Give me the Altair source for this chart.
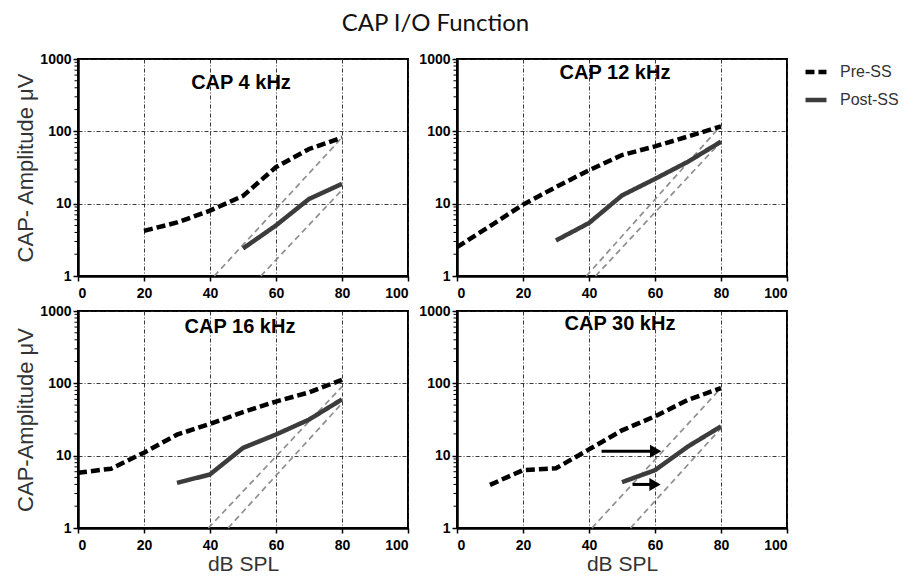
import altair as alt
import pandas as pd

# ---------------- data ----------------
panel_names = ["CAP 4 kHz", "CAP 12 kHz", "CAP 16 kHz", "CAP 30 kHz"]

pre4_x = [20, 30, 40, 50, 60, 70, 80]
pre4_y = [4.2, 5.5, 8.0, 12.8, 32, 57, 82]
post4_x = [50, 60, 70, 80]
post4_y = [2.4, 5.0, 11.6, 18.8]

pre12_x = [0, 10, 20, 30, 40, 50, 60, 70, 80]
pre12_y = [2.5, 4.9, 9.7, 17, 29, 47, 62, 85, 117]
post12_x = [30, 40, 50, 60, 70, 80]
post12_y = [3.1, 5.4, 13, 22, 38, 72]

pre16_x = [0, 10, 20, 30, 40, 50, 60, 70, 80]
pre16_y = [5.8, 6.6, 11, 19.5, 27.5, 40, 56, 75, 112]
post16_x = [30, 40, 50, 60, 70, 80]
post16_y = [4.2, 5.5, 12.8, 19.6, 31.5, 60]

pre30_x = [10, 20, 30, 40, 50, 60, 70, 80]
pre30_y = [3.95, 6.3, 6.7, 12.2, 22.4, 35, 59, 86]
post30_x = [50, 60, 70, 80]
post30_y = [4.3, 6.3, 13.4, 25.4]

# grey dashed reference slopes (two segments per panel: x0, y0, x1, y1)
ref4 = [(41.3, 1, 80, 82), (55.4, 1, 80, 15.5)]
ref12 = [(39.2, 1, 80, 120), (42.0, 1, 80, 72)]
ref16 = [(39.5, 1, 80, 90), (45.5, 1, 80, 53)]
ref30 = [(40.9, 1, 80, 86), (52.6, 1, 80, 24)]

# arrows in the 30 kHz panel
arrow_x0 = [43.8, 53.2]
arrow_x1 = [62.2, 62.0]
arrow_y = [11.5, 4.0]

y_ticks = [1, 10, 100, 1000]
y_minor = [2, 3, 4, 5, 6, 7, 8, 9, 20, 30, 40, 50, 60, 70, 80, 90,
           200, 300, 400, 500, 600, 700, 800, 900]
x_ticks = [0, 20, 40, 60, 80, 100]
series_names = ["Pre-SS", "Post-SS"]

y_titles = ["CAP- Amplitude \u03bcV", None, "CAP-Amplitude \u03bcV", None]
x_titles = [None, None, "dB  SPL", "dB SPL"]

series = [
    (pre4_x, pre4_y, post4_x, post4_y),
    (pre12_x, pre12_y, post12_x, post12_y),
    (pre16_x, pre16_y, post16_x, post16_y),
    (pre30_x, pre30_y, post30_x, post30_y),
]
refs = [ref4, ref12, ref16, ref30]
title_pos = [(163, 24), (158, 14), (162, 16), (163, 13)]

W = 330
H = 217


def panel(i):
    px, py, qx, qy = series[i]
    rows = [{"s": "Pre-SS", "x": a, "y": b} for a, b in zip(px, py)]
    rows += [{"s": "Post-SS", "x": a, "y": b} for a, b in zip(qx, qy)]
    df = pd.DataFrame(rows)

    ref_rows = []
    for k, (x0, y0, x1, y1) in enumerate(refs[i]):
        ref_rows.append({"seg": k, "x": x0, "y": y0})
        ref_rows.append({"seg": k, "x": x1, "y": y1})
    rdf = pd.DataFrame(ref_rows)

    xenc = alt.X("x:Q", scale=alt.Scale(domain=[0, 100], nice=False, zero=False),
                 axis=alt.Axis(values=x_ticks, title=x_titles[i], format="d"))
    yenc = alt.Y("y:Q", scale=alt.Scale(type="log", domain=[1, 1000], nice=False),
                 axis=alt.Axis(values=y_ticks, title=y_titles[i], format="d"))

    grey = alt.Chart(rdf).mark_line(color="#8f8f8f", strokeWidth=1.7,
                                     strokeDash=[6, 4]).encode(
        x=xenc, y=yenc, detail="seg:N")

    lines = alt.Chart(df).mark_line(strokeWidth=4.5, strokeCap="butt").encode(
        x="x:Q", y="y:Q",
        color=alt.Color("s:N", scale=alt.Scale(domain=series_names,
                                               range=["#000000", "#3c3c3c"]),
                        legend=alt.Legend(title=None)),
        strokeDash=alt.StrokeDash("s:N", scale=alt.Scale(domain=series_names,
                                                         range=[[9, 4], [1, 0]]),
                                  legend=alt.Legend(title=None)),
        order="x:Q",
    )

    minor = alt.Chart(pd.DataFrame({"v": y_minor})).mark_rule(
        color="black", strokeWidth=1).encode(
        y="v:Q", x=alt.value(-3.5), x2=alt.value(0))

    tx, ty = title_pos[i]
    ttl = alt.Chart(pd.DataFrame({"t": [panel_names[i]]})).mark_text(
        font="Liberation Sans", fontWeight="bold", fontSize=20, color="black",
        align="center", baseline="middle").encode(
        text="t:N", x=alt.value(tx), y=alt.value(ty))

    layers = [grey, lines, minor, ttl]
    if i == 3:
        adf = pd.DataFrame({"x0": arrow_x0, "x1": arrow_x1, "y": arrow_y})
        adf["xh"] = adf["x1"] - 2.0
        shaft = alt.Chart(adf).mark_rule(color="black", strokeWidth=3).encode(
            x="x0:Q", x2="xh:Q", y="y:Q")
        head = alt.Chart(adf).mark_point(shape="triangle-right", filled=True,
                                         color="black", size=170, opacity=1).encode(
            x="xh:Q", y="y:Q")
        layers += [shaft, head]

    return alt.layer(*layers).properties(width=W, height=H)


chart = alt.concat(panel(0), panel(1), panel(2), panel(3), columns=2,
                   spacing={"row": 35, "column": 49}, bounds="flush").properties(
    title=alt.TitleParams("CAP I/O Function", font="Lato", fontSize=24,
                          fontWeight="normal", color="#111111", anchor="middle",
                          dx=-21, offset=15),
    padding={"left": 5, "top": 4, "right": 0, "bottom": 0},
).configure_view(
    stroke="black", strokeWidth=2
).configure_axis(
    labelFont="Liberation Sans", labelFontWeight="bold", labelFontSize=14,
    labelColor="black", labelPadding=2,
    titleFont="Liberation Sans", titleFontWeight="normal", titleFontSize=22,
    titleColor="#333333", titlePadding=6,
    domainColor="black", domainWidth=2.5,
    tickColor="black", tickWidth=1.5, tickSize=5,
    grid=True, gridColor="#222222", gridWidth=0.9, gridDash=[4, 2, 1, 2],
).configure_axisX(
    labelPadding=5, titlePadding=1, titleFontSize=21,
).configure_axisY(
    titlePadding=2,
).configure_legend(
    orient="right", offset=14, symbolType="stroke", symbolSize=441,
    symbolStrokeWidth=4.5, labelFont="Liberation Sans", labelFontSize=16,
    labelColor="#333333", labelOffset=11, rowPadding=6, padding=0,
)

chart.save("out.html", embed_options={"renderer": "svg", "actions": False})
